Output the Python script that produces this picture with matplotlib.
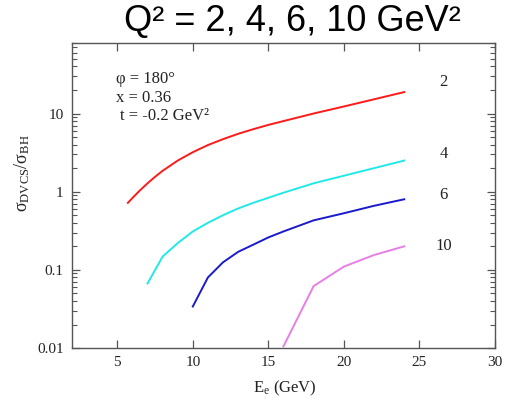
import matplotlib
matplotlib.use("Agg")
import matplotlib.pyplot as plt
from matplotlib.ticker import NullFormatter

serif = "Liberation Serif"
plt.rcParams["mathtext.fontset"] = "custom"
plt.rcParams["mathtext.rm"] = serif
plt.rcParams["mathtext.it"] = serif + ":italic"

# Q^2 = 2 GeV^2
e_q2 = [5.7, 6, 6.5, 7, 7.5, 8, 9, 10, 11, 12, 13, 14, 15, 16, 18, 20, 22, 24]
r_q2 = [0.72, 0.83, 1.04, 1.28, 1.55, 1.85, 2.5, 3.2, 3.95, 4.7, 5.5, 6.3, 7.15,
        8.0, 10.0, 12.3, 15.2, 18.8]
# Q^2 = 4 GeV^2
e_q4 = [7, 8, 9, 10, 11, 12, 13, 14, 16, 18, 20, 22, 24]
r_q4 = [0.067, 0.148, 0.22, 0.31, 0.4, 0.5, 0.61, 0.72, 0.97, 1.28, 1.6, 2.0, 2.5]
# Q^2 = 6 GeV^2
e_q6 = [10, 11, 12, 13, 14, 15, 16, 18, 20, 22, 24]
r_q6 = [0.034, 0.08, 0.125, 0.17, 0.21, 0.26, 0.31, 0.43, 0.53, 0.66, 0.8]
# Q^2 = 10 GeV^2
e_q10 = [16, 18, 20, 22, 24]
r_q10 = [0.0105, 0.062, 0.11, 0.155, 0.2]

curve_labels = ["2", "4", "6", "10"]
label_y = [25, 3.0, 0.9, 0.2]
colors = ["#ff1a1a", "#22e8e8", "#1a1acc", "#e67ee6"]

y_ticks = [0.01, 0.1, 1, 10]
y_tick_labels = ["0.01", "0.1", "1", "10"]
y_minor = [m * 10.0 ** e for e in range(-2, 2) for m in range(2, 10)]
x_ticks = [5, 10, 15, 20, 25, 30]

fig = plt.figure(figsize=(5.07, 4.01), dpi=100)
ax = fig.add_axes([0.142, 0.132, 0.834, 0.761])

series = [(e_q2, r_q2), (e_q4, r_q4), (e_q6, r_q6), (e_q10, r_q10)]
for (xs, ys), c, lab, ly in zip(series, colors, curve_labels, label_y):
    ax.plot(xs, ys, color=c, lw=1.4)
    ax.text(26.6, ly, lab, fontsize=12, family=serif, ha="center", va="center",
            color="#222222")

ax.set_yscale("log")
ax.set_xticks(x_ticks)
ax.set_yticks(y_ticks, y_tick_labels)
ax.set_yticks(y_minor, minor=True)
ax.yaxis.set_minor_formatter(NullFormatter())
# limits after the ticks, set_yticks would otherwise widen them
ax.set_xlim(2, 30)
ax.set_ylim(0.01, 80)

ax.tick_params(axis="both", which="major", direction="in", top=True, right=True,
               color="#555555", labelsize=11, labelcolor="#222222",
               length=6, width=0.9, pad=6)
ax.tick_params(axis="y", which="minor", direction="in", left=True, right=True,
               color="#555555", length=3.5, width=0.8)
for lbl in ax.get_xticklabels() + ax.get_yticklabels():
    lbl.set_family(serif)
for sp in ax.spines.values():
    sp.set_color("#555555")
    sp.set_linewidth(1.0)

ax.text(4.9, 28, "φ = 180°", family=serif, fontsize=12, va="center", color="#222222")
ax.text(4.9, 16, "x = 0.36", family=serif, fontsize=12, va="center", color="#222222")
ax.text(5.2, 9.2, "t = -0.2 GeV²", family=serif, fontsize=12, va="center", color="#222222")

fig.text(285 / 507, 1 - 388 / 401, "E$_{\\rm e}$ (GeV)", family=serif,
         fontsize=12, ha="center", va="center", color="#222222")
fig.text(22 / 507, 1 - 173 / 401, "σ$_{\\rm DVCS}$/σ$_{\\rm BH}$", family=serif,
         fontsize=13, ha="center", va="center", rotation=90, color="#222222")

fig.text(292 / 507, 1 - 21 / 401, "Q² = 2, 4, 6, 10 GeV²",
         family="Liberation Sans", fontsize=26, ha="center", va="center")

fig.savefig("out.png", dpi=100)
